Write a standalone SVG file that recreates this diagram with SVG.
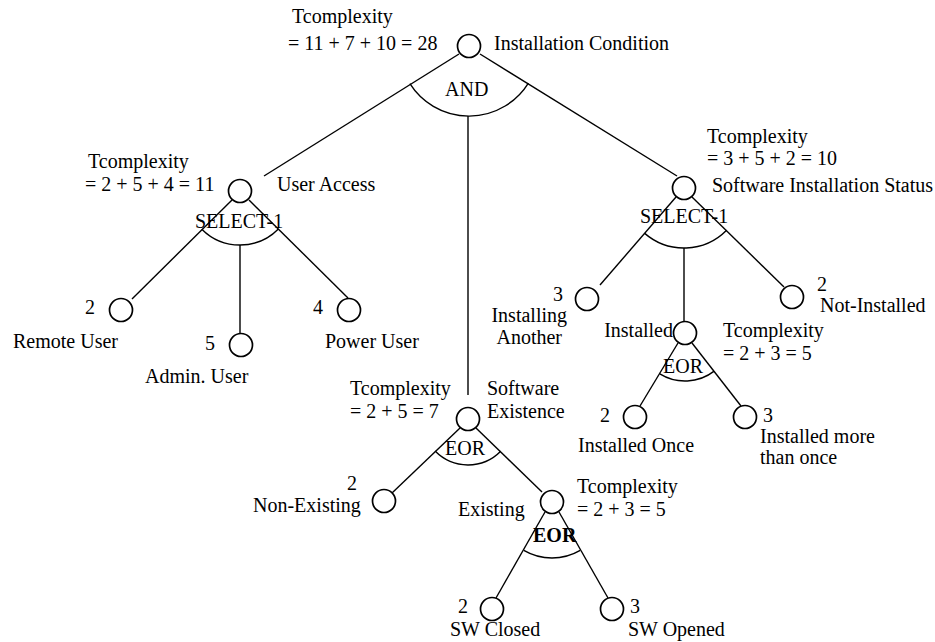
<svg xmlns="http://www.w3.org/2000/svg" width="935" height="642" viewBox="0 0 935 642">
  <style>
    text { font-family: "Liberation Serif", "Times New Roman", serif; font-size: 20px; fill: #000; }
    .bold { font-weight: bold; }
    .edge { stroke: #000; stroke-width: 1.4; fill: none; }
    .gate { stroke: #000; stroke-width: 1.4; fill: none; }
    .node { stroke: #000; stroke-width: 1.7; fill: #fff; }
  </style>
  <rect width="935" height="642" fill="#fff"/>

  <!-- connectors and gate arcs -->
  <g id="connectors">
    <line class="edge" x1="459" y1="54" x2="264" y2="176"/>
    <line class="edge" x1="480" y1="54" x2="677" y2="176"/>
    <line class="edge" x1="468" y1="116" x2="468" y2="395"/>
    <line class="edge" x1="232" y1="200" x2="132" y2="299"/>
    <line class="edge" x1="249" y1="200" x2="348" y2="298"/>
    <line class="edge" x1="240" y1="245" x2="240" y2="333"/>
    <line class="edge" x1="676" y1="197" x2="600" y2="285"/>
    <line class="edge" x1="692" y1="197" x2="784" y2="287"/>
    <line class="edge" x1="684" y1="248" x2="684" y2="322"/>
    <line class="edge" x1="678" y1="343" x2="640" y2="406"/>
    <line class="edge" x1="692" y1="343" x2="741" y2="406"/>
    <line class="edge" x1="460" y1="428" x2="392" y2="493"/>
    <line class="edge" x1="476" y1="428" x2="542" y2="492"/>
    <line class="edge" x1="545" y1="512" x2="496" y2="598"/>
    <line class="edge" x1="559" y1="512" x2="608" y2="598"/>

    <path class="gate" d="M409.9 83.6 A70 70 0 0 0 528.4 83.1"/>
    <path class="gate" d="M201.8 229.2 A54 54 0 0 0 278.4 229"/>
    <path class="gate" d="M644.7 233.4 A60 60 0 0 0 726.6 230.2"/>
    <path class="gate" d="M659.8 373.9 A48 48 0 0 0 714.2 371.1"/>
    <path class="gate" d="M435.1 451.1 A46 46 0 0 0 500.7 451.3"/>
    <path class="gate" d="M523.8 550.4 A56 56 0 0 0 580.2 550.4"/>
  </g>

  <!-- gate labels -->
  <g id="gate-labels">
    <text x="445" y="96">AND</text>
    <text x="195" y="228">SELECT-1</text>
    <text x="640" y="223">SELECT-1</text>
    <text x="663" y="373">EOR</text>
    <text x="445" y="455">EOR</text>
    <text class="bold" x="533" y="542">EOR</text>
  </g>

  <g id="installation-condition">
    <circle class="node" cx="469" cy="46" r="11.5"/>
    <text x="292" y="23">Tcomplexity</text>
    <text x="288" y="50">= 11 + 7 + 10 = 28</text>
    <text x="494" y="50">Installation Condition</text>
  </g>

  <g id="user-access">
    <circle class="node" cx="240" cy="191" r="11.5"/>
    <text x="88" y="168">Tcomplexity</text>
    <text x="85" y="191">= 2 + 5 + 4 = 11</text>
    <text x="277" y="191">User Access</text>
  </g>

  <g id="remote-user">
    <circle class="node" cx="121" cy="310" r="11.5"/>
    <text x="85" y="314">2</text>
    <text x="13" y="348">Remote User</text>
  </g>

  <g id="admin-user">
    <circle class="node" cx="241" cy="345" r="11.5"/>
    <text x="205" y="350">5</text>
    <text x="145" y="383">Admin. User</text>
  </g>

  <g id="power-user">
    <circle class="node" cx="349" cy="310" r="11.5"/>
    <text x="313" y="314">4</text>
    <text x="325" y="348">Power User</text>
  </g>

  <g id="software-installation-status">
    <circle class="node" cx="684" cy="188" r="11.5"/>
    <text x="707" y="143">Tcomplexity</text>
    <text x="707" y="165">= 3 + 5 + 2 = 10</text>
    <text x="712" y="192">Software Installation Status</text>
  </g>

  <g id="installing-another">
    <circle class="node" cx="587" cy="299" r="11.5"/>
    <text x="553" y="301">3</text>
    <text x="567" y="322" text-anchor="end">Installing</text>
    <text x="562" y="344" text-anchor="end">Another</text>
  </g>

  <g id="not-installed">
    <circle class="node" cx="792" cy="297" r="11.5"/>
    <text x="817" y="291">2</text>
    <text x="820" y="312">Not-Installed</text>
  </g>

  <g id="installed">
    <circle class="node" cx="685" cy="333" r="11.5"/>
    <text x="673" y="337" text-anchor="end">Installed</text>
    <text x="723" y="337">Tcomplexity</text>
    <text x="723" y="360">= 2 + 3 = 5</text>
  </g>

  <g id="installed-once">
    <circle class="node" cx="635" cy="417" r="11.5"/>
    <text x="600" y="422">2</text>
    <text x="578" y="452">Installed Once</text>
  </g>

  <g id="installed-more">
    <circle class="node" cx="745" cy="417" r="11.5"/>
    <text x="763" y="422">3</text>
    <text x="760" y="443">Installed more</text>
    <text x="760" y="464">than once</text>
  </g>

  <g id="software-existence">
    <circle class="node" cx="468" cy="419" r="11.5"/>
    <text x="350" y="395">Tcomplexity</text>
    <text x="350" y="418">= 2 + 5 = 7</text>
    <text x="487" y="395">Software</text>
    <text x="487" y="418">Existence</text>
  </g>

  <g id="non-existing">
    <circle class="node" cx="384" cy="501" r="11.5"/>
    <text x="347" y="490">2</text>
    <text x="253" y="512">Non-Existing</text>
  </g>

  <g id="existing">
    <circle class="node" cx="552" cy="502" r="11.5"/>
    <text x="458" y="516">Existing</text>
    <text x="577" y="493">Tcomplexity</text>
    <text x="577" y="516">= 2 + 3 = 5</text>
  </g>

  <g id="sw-closed">
    <circle class="node" cx="492" cy="609" r="11.5"/>
    <text x="458" y="613">2</text>
    <text x="450" y="636">SW Closed</text>
  </g>

  <g id="sw-opened">
    <circle class="node" cx="612" cy="609" r="11.5"/>
    <text x="630" y="613">3</text>
    <text x="628" y="636">SW Opened</text>
  </g>
</svg>
